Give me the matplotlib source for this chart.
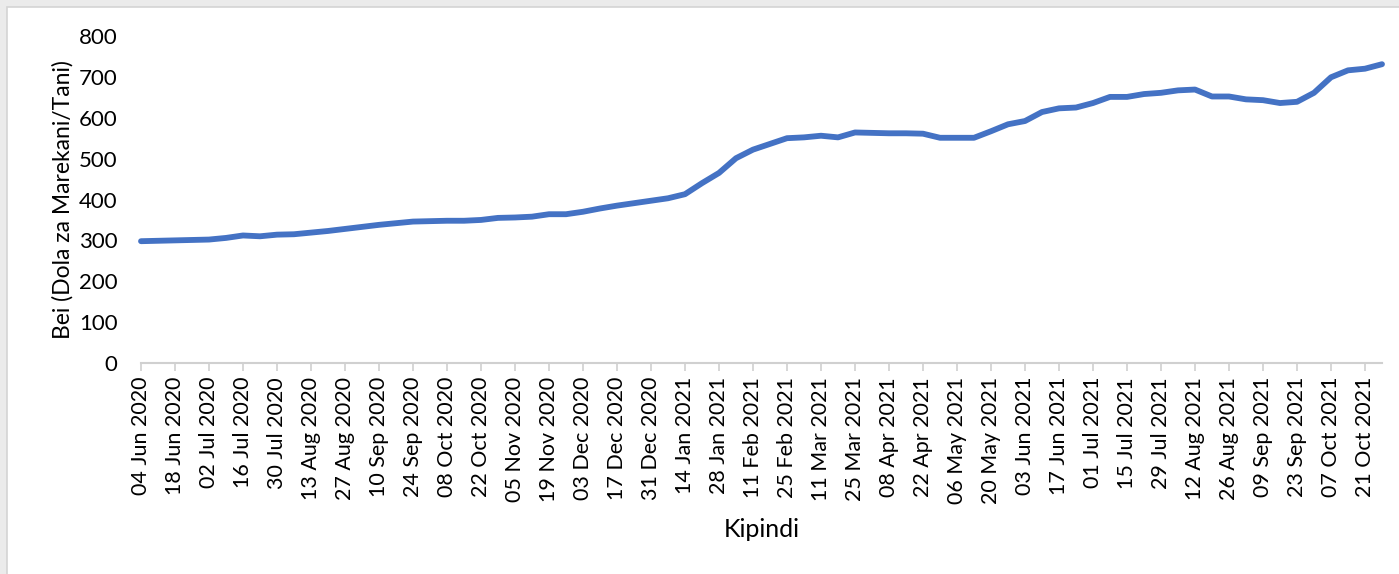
import numpy as np
import pandas as pd
import matplotlib
matplotlib.use("Agg")
import matplotlib.pyplot as plt
from matplotlib.patches import Rectangle

# weekly price readings, 04 Jun 2020 .. 28 Oct 2021
dates = pd.date_range("2020-06-04", "2021-10-28", freq="7D")
prices = [298, 299, 300, 301, 302, 306, 312, 310, 314, 315,
          319, 323, 328, 333, 338, 342, 346, 347, 348, 348,
          350, 355, 356, 358, 364, 364, 370, 378, 385, 391,
          397, 403, 413, 440, 465, 501, 522, 536, 550, 552,
          556, 552, 564, 563, 562, 562, 561, 551, 551, 551,
          567, 584, 592, 614, 623, 625, 636, 651, 651, 658,
          661, 667, 669, 652, 652, 645, 643, 636, 639, 661,
          699, 716, 720, 731]
tick_labels = [d.strftime("%d %b %Y") for d in dates]

plt.rcParams["font.family"] = ["Lato", "DejaVu Sans"]

fig = plt.figure(figsize=(13.99, 5.74), dpi=100)
fig.patch.set_facecolor("#ebebeb")
fig.patches.append(Rectangle((7 / 1399, -0.1), 1.2, 1 - 7 / 574 + 0.1,
                             transform=fig.transFigure, facecolor="white",
                             edgecolor="#d4d4d4", lw=1.2, zorder=-5))

ax = fig.add_axes([141 / 1399, 1 - 363 / 574, 1241 / 1399, 327 / 574])
ax.set_zorder(2)
ax.set_facecolor("none")
x = np.arange(len(prices))
ax.plot(x, prices, color="#4472C4", lw=4.2, solid_joinstyle="round",
        solid_capstyle="round", clip_on=False)

ax.set_xlim(0, len(prices) - 1)
ax.set_ylim(0, 800)
ax.set_yticks(range(0, 801, 100))
ax.set_xticks(x[::2])
ax.set_xticklabels(tick_labels[::2], rotation=90, fontsize=15.5)
ax.tick_params(axis="y", length=0, pad=17, labelsize=16)
ax.tick_params(axis="x", length=6, width=1.2, color="#d0d0d0", pad=4)

for s in ["left", "right", "top"]:
    ax.spines[s].set_visible(False)
ax.spines["bottom"].set_color("#d0d0d0")
ax.spines["bottom"].set_linewidth(1.5)

ax.set_ylabel("Bei (Dola za Marekani/Tani)", fontsize=16.5, labelpad=4)
ax.set_xlabel("Kipindi", fontsize=18, labelpad=10)

fig.savefig("out.png", dpi=100, facecolor=fig.get_facecolor())
